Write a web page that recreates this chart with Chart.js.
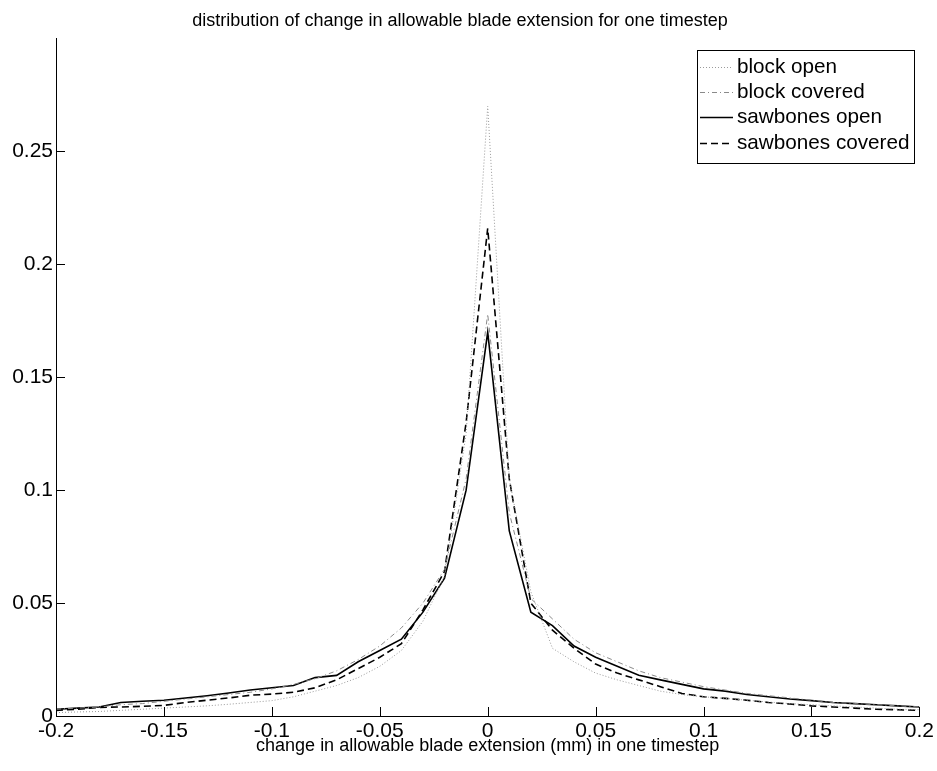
<!DOCTYPE html>
<html>
<head>
<meta charset="utf-8">
<script src="https://cdn.jsdelivr.net/npm/chart.js@4.4.1/dist/chart.umd.min.js"></script>
<style>
  html, body { margin: 0; padding: 0; background: #fff; }
  #wrap { width: 937px; height: 771px; }
</style>
</head>
<body>
<div id="wrap"><canvas id="c" width="937" height="771"></canvas></div>
<script>
// Bin centres of the change in allowable blade extension (mm)
const binCentres = [
  -0.20, -0.19, -0.18, -0.17, -0.16, -0.15, -0.14, -0.13, -0.12, -0.11,
  -0.10, -0.09, -0.08, -0.07, -0.06, -0.05, -0.04, -0.03, -0.02, -0.01,
   0.00,
   0.01,  0.02,  0.03,  0.04,  0.05,  0.06,  0.07,  0.08,  0.09,  0.10,
   0.11,  0.12,  0.13,  0.14,  0.15,  0.16,  0.17,  0.18,  0.19,  0.20
];

// Fraction of timesteps falling in each bin
const blockOpen = [
  0.0015, 0.0018, 0.0020, 0.0025, 0.0030, 0.0035, 0.0040, 0.0045, 0.0052, 0.0060,
  0.0068, 0.0085, 0.0110, 0.0135, 0.0170, 0.0220, 0.0290, 0.0420, 0.0620, 0.1250,
  0.2700,
  0.1050, 0.0550, 0.0300, 0.0240, 0.0190, 0.0160, 0.0135, 0.0110, 0.0095, 0.0085,
  0.0078, 0.0070, 0.0062, 0.0055, 0.0050, 0.0045, 0.0040, 0.0035, 0.0030, 0.0028
];
const blockCovered = [
  0.0030, 0.0035, 0.0040, 0.0050, 0.0055, 0.0065, 0.0075, 0.0085, 0.0095, 0.0105,
  0.0120, 0.0140, 0.0165, 0.0200, 0.0250, 0.0310, 0.0390, 0.0500, 0.0650, 0.1050,
  0.1780,
  0.0900, 0.0520, 0.0430, 0.0340, 0.0280, 0.0240, 0.0200, 0.0170, 0.0150, 0.0130,
  0.0115, 0.0100, 0.0090, 0.0080, 0.0070, 0.0060, 0.0055, 0.0050, 0.0045, 0.0040
];
const sawbonesOpen = [
  0.0030, 0.0035, 0.0040, 0.0060, 0.0065, 0.0070, 0.0080, 0.0090, 0.0102, 0.0115,
  0.0125, 0.0135, 0.0170, 0.0180, 0.0240, 0.0290, 0.0340, 0.0460, 0.0610, 0.1000,
  0.1700,
  0.0820, 0.0460, 0.0400, 0.0310, 0.0260, 0.0220, 0.0180, 0.0160, 0.0140, 0.0120,
  0.0110, 0.0095, 0.0085, 0.0075, 0.0068, 0.0060, 0.0055, 0.0050, 0.0045, 0.0040
];
const sawbonesCovered = [
  0.0025, 0.0030, 0.0038, 0.0040, 0.0043, 0.0047, 0.0060, 0.0070, 0.0080, 0.0092,
  0.0097, 0.0105, 0.0125, 0.0160, 0.0210, 0.0260, 0.0320, 0.0470, 0.0640, 0.1300,
  0.2160,
  0.1050, 0.0500, 0.0380, 0.0300, 0.0230, 0.0190, 0.0160, 0.0130, 0.0100, 0.0085,
  0.0078, 0.0070, 0.0060, 0.0053, 0.0045, 0.0040, 0.0035, 0.0030, 0.0028, 0.0025
];

const seriesNames = ['block open', 'block covered', 'sawbones open', 'sawbones covered'];
const xTickValues = [-0.2, -0.15, -0.1, -0.05, 0, 0.05, 0.1, 0.15, 0.2];
const yTickValues = [0, 0.05, 0.1, 0.15, 0.2, 0.25];

const FONT = "'Liberation Sans', Arial, Helvetica, sans-serif";

function pairs(ys) { return binCentres.map((x, i) => ({ x: x, y: ys[i] })); }
function fmt(v) { return String(Number(v.toFixed(2))); }

const styles = [
  { borderColor: '#9a9a9a', borderWidth: 1,   borderDash: [1, 2] },
  { borderColor: '#8a8a8a', borderWidth: 1,   borderDash: [5, 3, 1, 3] },
  { borderColor: '#000000', borderWidth: 1.6, borderDash: [] },
  { borderColor: '#000000', borderWidth: 1.6, borderDash: [7, 4] }
];
const seriesData = [blockOpen, blockCovered, sawbonesOpen, sawbonesCovered];

const datasets = seriesNames.map((name, i) => Object.assign({
  label: name,
  data: pairs(seriesData[i]),
  pointRadius: 0,
  pointHoverRadius: 0,
  tension: 0,
  fill: false
}, styles[i]));

// Inward-pointing tick marks on the bottom and left axes
const innerTicks = {
  id: 'innerTicks',
  afterDatasetsDraw(chart) {
    const { ctx, chartArea: a, scales: { x, y } } = chart;
    ctx.save();
    ctx.strokeStyle = '#000';
    ctx.lineWidth = 1;
    ctx.beginPath();
    xTickValues.forEach(v => {
      const px = Math.round(x.getPixelForValue(v)) + 0.5;
      ctx.moveTo(px, a.bottom);
      ctx.lineTo(px, a.bottom - 9);
    });
    yTickValues.forEach(v => {
      const py = Math.round(y.getPixelForValue(v)) + 0.5;
      ctx.moveTo(a.left, py);
      ctx.lineTo(a.left + 9, py);
    });
    ctx.stroke();
    ctx.restore();
  }
};

// Boxed legend in the upper right corner with line samples
const boxLegend = {
  id: 'boxLegend',
  afterDraw(chart) {
    const { ctx } = chart;
    const left = 697, top = 50, right = 914, bottom = 163;
    const rowTop = 66.5, rowGap = 25.4;
    ctx.save();
    ctx.fillStyle = '#fff';
    ctx.fillRect(left, top, right - left, bottom - top);
    ctx.strokeStyle = '#000';
    ctx.lineWidth = 1;
    ctx.setLineDash([]);
    ctx.strokeRect(left + 0.5, top + 0.5, right - left, bottom - top);
    chart.data.datasets.forEach((ds, i) => {
      const yy = Math.round(rowTop + i * rowGap) + 0.5;
      ctx.strokeStyle = ds.borderColor;
      ctx.lineWidth = ds.borderWidth;
      ctx.setLineDash(ds.borderDash || []);
      ctx.beginPath();
      ctx.moveTo(left + 3, yy);
      ctx.lineTo(left + 36, yy);
      ctx.stroke();
      ctx.setLineDash([]);
      ctx.fillStyle = '#000';
      ctx.font = '20.7px ' + FONT;
      ctx.textAlign = 'left';
      ctx.textBaseline = 'middle';
      ctx.fillText(ds.label, left + 40, yy);
    });
    ctx.restore();
  }
};

new Chart(document.getElementById('c'), {
  type: 'line',
  data: { datasets: datasets },
  options: {
    responsive: false,
    animation: false,
    events: [],
    layout: { padding: { left: 0, right: 17, top: 0, bottom: 0 } },
    plugins: {
      legend: { display: false },
      tooltip: { enabled: false },
      title: {
        display: true,
        text: 'distribution of change in allowable blade extension for one timestep',
        color: '#000',
        font: { family: FONT, size: 18, weight: 'normal' },
        padding: { top: 10, bottom: 7 }
      }
    },
    scales: {
      x: {
        type: 'linear',
        min: -0.2,
        max: 0.2,
        afterBuildTicks(scale) { scale.ticks = xTickValues.map(v => ({ value: v })); },
        afterFit(scale) { scale.height = 55; },
        ticks: {
          color: '#000',
          font: { family: FONT, size: 21 },
          padding: 3,
          maxRotation: 0,
          autoSkip: false,
          callback: v => fmt(v)
        },
        grid: { display: false, drawTicks: false, drawOnChartArea: false },
        border: { display: true, color: '#000', width: 1 },
        title: {
          display: true,
          text: 'change in allowable blade extension (mm) in one timestep',
          color: '#000',
          font: { family: FONT, size: 18 },
          padding: { top: 0, bottom: 14 }
        }
      },
      y: {
        type: 'linear',
        min: 0,
        max: 0.3,
        afterBuildTicks(scale) { scale.ticks = yTickValues.map(v => ({ value: v })); },
        afterFit(scale) { scale.width = 56; },
        ticks: {
          color: '#000',
          font: { family: FONT, size: 21 },
          padding: 3,
          callback: v => fmt(v)
        },
        grid: { display: false, drawTicks: false, drawOnChartArea: false },
        border: { display: true, color: '#000', width: 1 }
      }
    }
  },
  plugins: [innerTicks, boxLegend]
});
</script>
</body>
</html>
